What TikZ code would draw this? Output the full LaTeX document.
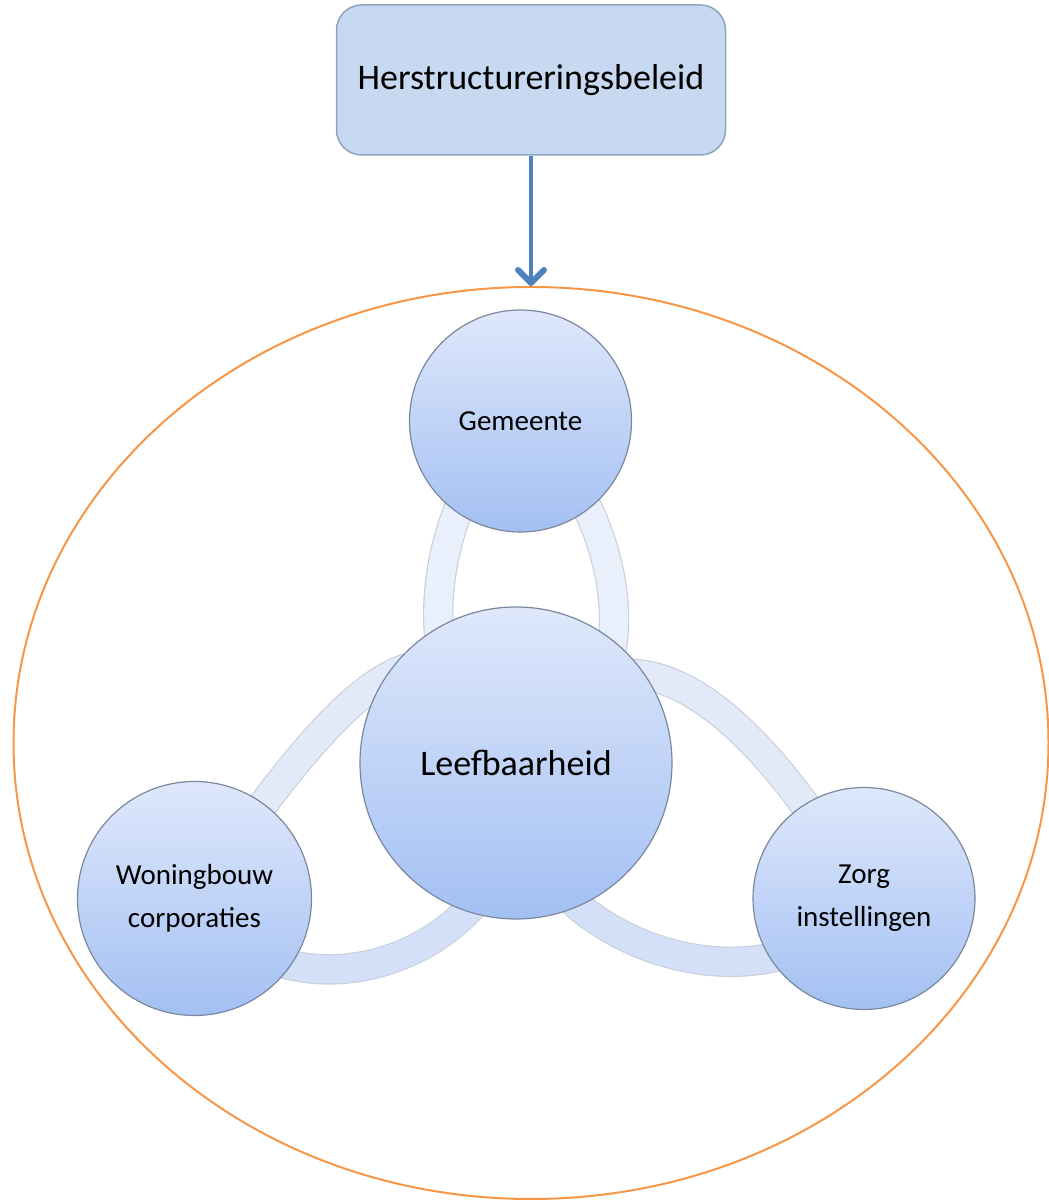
\documentclass[tikz,border=0pt]{standalone}
\usepackage{fontspec}
\setmainfont{Carlito}
\usetikzlibrary{arrows.meta,shapes.geometric,backgrounds}
\definecolor{boxfill}{HTML}{C6D9F1}
\definecolor{boxline}{HTML}{8EA4C2}
\definecolor{arrowblue}{HTML}{4F81BD}
\definecolor{ringorange}{HTML}{F79646}
\definecolor{unittop}{HTML}{DFE8FB}
\definecolor{unitbottom}{HTML}{A3C0F3}
\definecolor{unitline}{HTML}{7A879C}
\definecolor{bandline}{HTML}{C9D0DB}
\definecolor{bandlight}{HTML}{E9EFFB}
\definecolor{bandmid}{HTML}{E2EAFA}
\definecolor{banddark}{HTML}{D3E0F8}

\begin{document}
\begin{tikzpicture}[x=1pt, y=1pt, >={Straight Barb[length=13pt,width=26pt,line width=6pt,round]}]
        \tikzstyle{unit}=[draw=unitline, line width=1.2pt, shape=circle, inner sep=0pt, align=center, top color=unittop, bottom color=unitbottom, font=\fontsize{29}{43}\selectfont]
        \tikzstyle{policy}=[draw=boxline, line width=1.5pt, fill=boxfill, rounded corners=25pt, minimum width=389pt, minimum height=150pt, font=\fontsize{36}{42}\selectfont]
        \tikzstyle{ring}=[draw=ringorange, line width=2pt, shape=ellipse, minimum width=1035pt, minimum height=912pt]
        \tikzstyle{band}=[draw=bandline, line width=1.2pt, double distance=28pt]

        \useasboundingbox (0,0) rectangle (1049,1202);

        \node[policy](beleid) at (531,1122){Herstructureringsbeleid};
        \node[ring](ring) at (531,459){};

        \node[unit, minimum size=222pt](gem) at (520.5,781){Gemeente};
        \node[unit, minimum size=312pt, font=\fontsize{36}{42}\selectfont](leef) at (516,439){Leefbaarheid};
        \node[unit, minimum size=234pt](wo) at (194.5,303.5){Woningbouw\\corporaties};
        \node[unit, minimum size=222pt](zorg) at (864,303.5){Zorg\\instellingen};

        \draw[->, arrowblue, line width=4.5pt] (beleid) -- (ring.north);

        \begin{scope}[on background layer]
        \draw[band, double=bandlight] (gem.center) .. controls +(-87,-64) and +(-124,63) .. (leef.center);
        \draw[band, double=bandlight] (gem.center) .. controls +(87,-64) and +(164,63) .. (leef.center);
        \draw[band, double=bandmid] (wo.center) .. controls +(125,174) and +(-76,213) .. (leef.center);
        \draw[band, double=banddark] (wo.center) .. controls +(97,-145) and +(24,-187) .. (leef.center);
        \draw[band, double=bandmid] (zorg.center) .. controls +(-100,180) and +(100,190) .. (leef.center);
        \draw[band, double=banddark] (zorg.center) .. controls +(-92,-133) and +(-16,-177) .. (leef.center);
        \end{scope}

\end{tikzpicture}
\end{document}
